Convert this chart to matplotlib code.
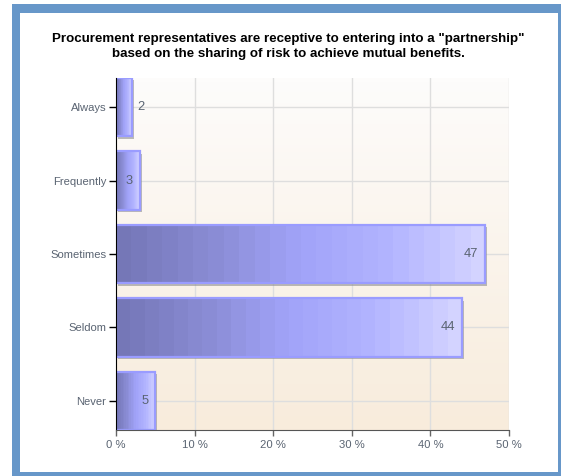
import numpy as np
import matplotlib.pyplot as plt
from matplotlib.patches import Rectangle
from matplotlib.colors import LinearSegmentedColormap
from matplotlib.transforms import offset_copy

categories = ['Always', 'Frequently', 'Sometimes', 'Seldom', 'Never']
values = [2, 3, 47, 44, 5]
x_ticks = [0, 10, 20, 30, 40, 50]
title = ('Procurement representatives are receptive to entering into a "partnership"\n'
         'based on the sharing of risk to achieve mutual benefits.')

W, H = 561, 476
fig = plt.figure(figsize=(W / 100, H / 100), dpi=100)
fig.patch.set_facecolor('white')

# blue frame round the whole chart
fig.patches.append(Rectangle((12 / W, 0), 1 - 12 / W, 1 - 4 / H, transform=fig.transFigure,
                             facecolor='#6797c9', edgecolor='none', zorder=-2))
fig.patches.append(Rectangle((20 / W, 4 / H), (558 - 20) / W, (463 - 4) / H,
                             transform=fig.transFigure, facecolor='white',
                             edgecolor='none', zorder=-1))

fig.text(288 / W, 1 - 46.5 / H, title, ha='center', va='center', fontsize=9.6,
         fontweight='bold', family='Liberation Sans', color='black', linespacing=1.35)

ax = fig.add_axes([116 / W, 1 - 430 / H, 393 / W, 352 / H])
ax.set_zorder(1)
ax.set_facecolor('none')

# plot background: near white at the top, warm beige at the bottom
bg = LinearSegmentedColormap.from_list('bg', ['#fdfcfb', '#f8ecdc'])
ax.imshow(np.linspace(0, 1, 100).reshape(-1, 1), cmap=bg, aspect='auto',
          extent=[0, 1, 0, 1], transform=ax.transAxes, zorder=0)

pad = 0.395
bar_cmap = LinearSegmentedColormap.from_list(
    'bar', ['#7577b7', '#8a8cd4', '#a1a3f9', '#b2b4ff', '#d3d3ff'])
h = 0.8
shadow_tr = offset_copy(ax.transData, fig=fig, x=2, y=-2.5, units='dots')
steps = np.linspace(0, 1, 24).reshape(1, -1)

for i, (cat, v) in enumerate(zip(categories, values)):
    y0 = i - h / 2
    ax.add_patch(Rectangle((0, y0), v, h, transform=shadow_tr, facecolor='#8f8f8f',
                           edgecolor='none', alpha=0.6, zorder=3))
    ax.imshow(steps, cmap=bar_cmap, aspect='auto', interpolation='nearest',
              extent=[0, v, i + h / 2, y0], zorder=4)
    ax.add_patch(Rectangle((0, y0), v, h, facecolor='none', edgecolor='#9a9cff',
                           linewidth=1.6, zorder=5))
    if v < 2.5:
        ax.annotate(str(v), (v, i), xytext=(6, 0), textcoords='offset pixels',
                    ha='left', va='center', fontsize=9.3, color='#5a6472',
                    family='Liberation Sans', zorder=6)
    else:
        ax.annotate(str(v), (v, i), xytext=(-7, 0), textcoords='offset pixels',
                    ha='right', va='center', fontsize=9.3, color='#5a6472',
                    family='Liberation Sans', zorder=6)

# imshow resets the limits, so set them after the bars
ax.set_xlim(0, 50)
ax.set_ylim(len(categories) - 1 + pad, -pad)

ax.set_yticks(range(len(categories)))
ax.set_yticklabels(categories)
ax.set_xticks(x_ticks)
ax.set_xticklabels([f'{t} %' for t in x_ticks])

for t in range(len(categories)):
    ax.axhline(t, color='#dedede', linewidth=1, zorder=1)
for t in x_ticks[1:]:
    ax.axvline(t, color='#dedede', linewidth=1, zorder=1)

for lab in ax.get_yticklabels() + ax.get_xticklabels():
    lab.set_family('Liberation Sans')
    lab.set_fontsize(8.1)
    lab.set_color('#5a6472')

ax.tick_params(axis='y', length=5, width=1, color='black', pad=2)
ax.tick_params(axis='x', length=4, width=1, color='#666666', pad=3)

for side in ['top', 'right']:
    ax.spines[side].set_visible(False)
ax.spines['left'].set_color('black')
ax.spines['bottom'].set_color('#555555')
ax.spines['left'].set_zorder(7)
ax.spines['bottom'].set_zorder(7)

fig.savefig('out.png', dpi=100)
